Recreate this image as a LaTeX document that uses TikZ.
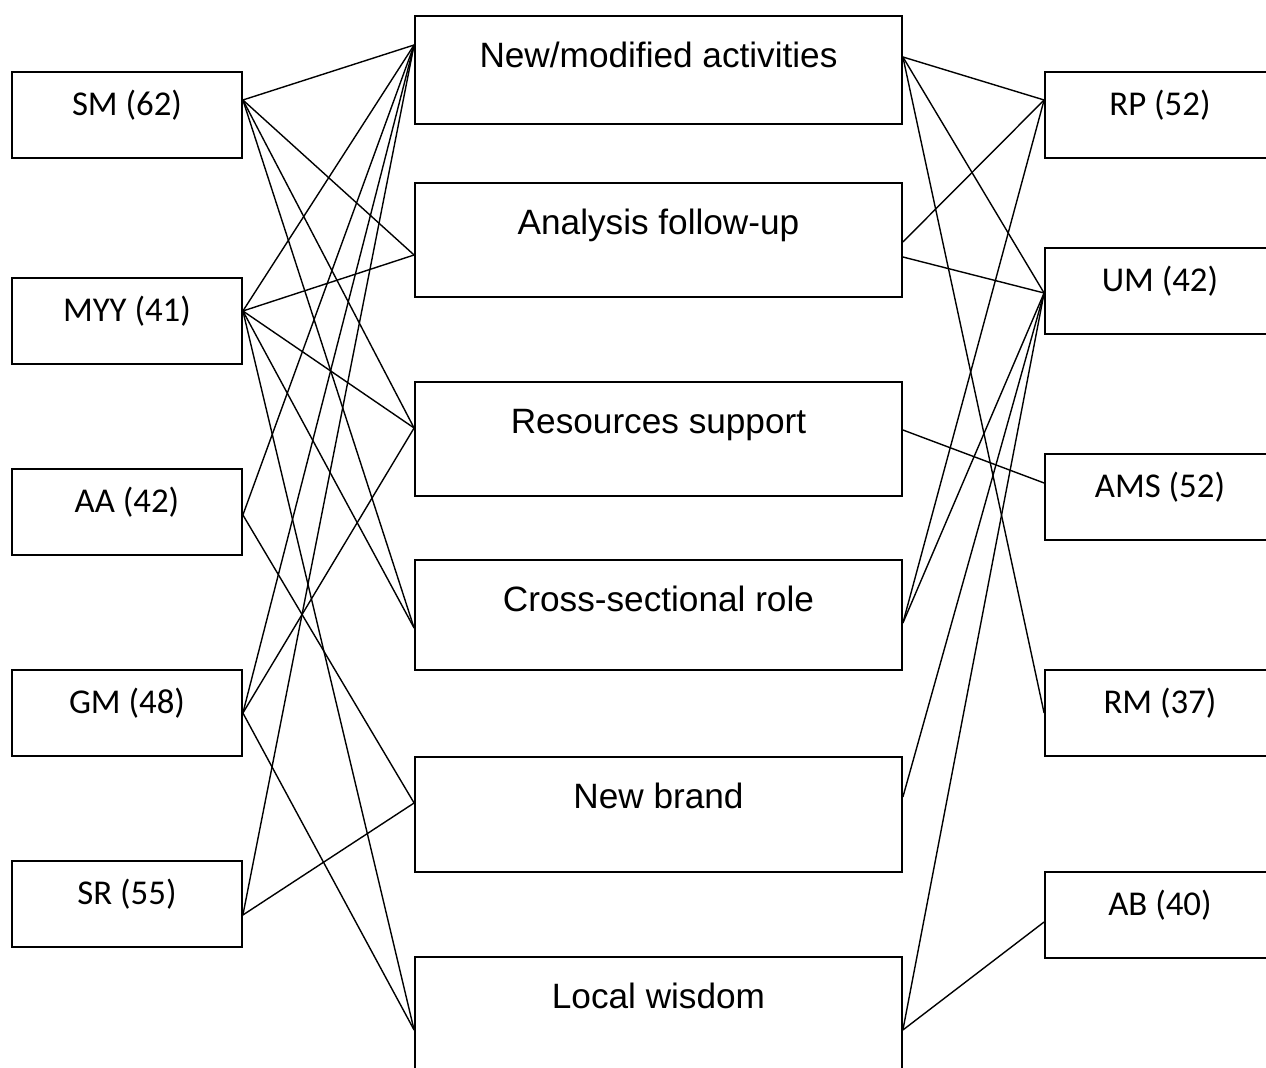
\documentclass[tikz,border=0pt]{standalone}
\usepackage{fontspec}
\setmainfont{Liberation Sans}
\newfontfamily\sidefont{Carlito}
\tikzset{
  side/.style={draw, line width=0.9pt, minimum width=115pt, inner sep=0pt,
    text height=22pt, text depth=21pt, font=\sidefont\fontsize{17.4}{20}\selectfont},
  mid/.style={draw, line width=0.9pt, minimum width=243.5pt, inner sep=0pt,
    text height=26pt, font=\fontsize{17.6}{20}\selectfont},
  link/.style={line width=0.7pt}
}
\begin{document}
\begin{tikzpicture}[x=0.5pt,y=-0.5pt]
\useasboundingbox (0,0) rectangle (1266,1068);
\clip (0,0) rectangle (1266,1068);

\node[side] (sm)  at (127,115) {SM (62)};
\node[side] (myy) at (127,321) {MYY (41)};
\node[side] (aa)  at (127,512) {AA (42)};
\node[side] (gm)  at (127,713) {GM (48)};
\node[side] (sr)  at (127,904) {SR (55)};

\node[mid, text depth=28pt]   (nm) at (658.5,70)    {New/modified activities};
\node[mid, text depth=31pt]   (af) at (658.5,240)   {Analysis follow-up};
\node[mid, text depth=31pt]   (rs) at (658.5,439)   {Resources support};
\node[mid, text depth=29pt]   (cs) at (658.5,615)   {Cross-sectional role};
\node[mid, text depth=31.5pt] (nb) at (658.5,814.5) {New brand};
\node[mid, text depth=33pt]   (lw) at (658.5,1016)  {Local wisdom};

\node[side] (rp)  at (1160,115) {RP (52)};
\node[side] (um)  at (1160,291) {UM (42)};
\node[side] (ams) at (1160,497) {AMS (52)};
\node[side] (rm)  at (1160,713) {RM (37)};
\node[side] (ab)  at (1160,915) {AB (40)};

\coordinate (sm-o)  at ([yshift=7.5pt]sm.east);
\coordinate (myy-o) at ([yshift=5pt]myy.east);
\coordinate (aa-o)  at ([yshift=-1.5pt]aa.east);
\coordinate (gm-o)  at (gm.east);
\coordinate (sr-o)  at ([yshift=-5.5pt]sr.east);

\coordinate (nm-i) at ([yshift=12.5pt]nm.west);
\coordinate (af-i) at ([yshift=-7.5pt]af.west);
\coordinate (rs-i) at ([yshift=5.5pt]rs.west);
\coordinate (cs-i) at ([yshift=-6.5pt]cs.west);
\coordinate (nb-i) at ([yshift=5.75pt]nb.west);
\coordinate (lw-i) at ([yshift=-7pt]lw.west);

\coordinate (nm-o)  at ([yshift=6.5pt]nm.east);
\coordinate (af-o)  at ([yshift=-1pt]af.east);
\coordinate (af-o2) at ([yshift=-8.5pt]af.east);
\coordinate (rs-o)  at ([yshift=4.5pt]rs.east);
\coordinate (cs-o)  at ([yshift=-4pt]cs.east);
\coordinate (nb-o)  at ([yshift=8.75pt]nb.east);
\coordinate (lw-o)  at ([yshift=-7pt]lw.east);

\coordinate (rp-i)  at ([yshift=7.5pt]rp.west);
\coordinate (um-i)  at ([yshift=-1pt]um.west);
\coordinate (ams-i) at ([yshift=7pt]ams.west);
\coordinate (rm-i)  at (rm.west);
\coordinate (ab-i)  at ([yshift=-3.5pt]ab.west);

\foreach \a/\b in {sm/nm,sm/af,sm/rs,sm/cs,
  myy/nm,myy/af,myy/rs,myy/cs,myy/lw,
  aa/nm,aa/nb,gm/nm,gm/rs,gm/lw,sr/nm,sr/nb}
  \draw[link] (\a-o) -- (\b-i);

\foreach \a/\b in {nm-o/rp,nm-o/um,nm-o/rm,af-o/rp,af-o2/um,rs-o/ams,
  cs-o/rp,cs-o/um,nb-o/um,lw-o/um,lw-o/ab}
  \draw[link] (\a) -- (\b-i);

\end{tikzpicture}
\end{document}
